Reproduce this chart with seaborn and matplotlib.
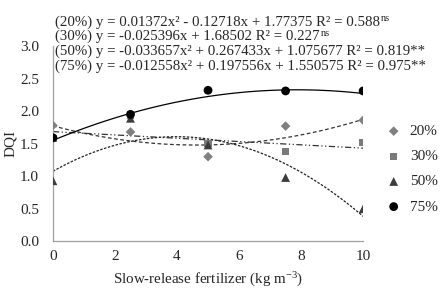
import matplotlib
matplotlib.use('Agg')
import matplotlib.pyplot as plt
import numpy as np
import pandas as pd
import seaborn as sns

doses = [0, 2.5, 5, 7.5, 10]
levels = ['20%', '30%', '50%', '75%']
dqi_20 = [1.78, 1.68, 1.30, 1.77, 1.86]
dqi_30 = [1.58, 1.94, 1.50, 1.38, 1.52]
dqi_50 = [0.93, 1.89, 1.48, 0.98, 0.50]
dqi_75 = [1.59, 1.95, 2.32, 2.31, 2.31]

# fitted coefficients (a x^2 + b x + c) as printed on the chart
coef_20 = [0.01372, -0.12718, 1.77375]
coef_30 = [0.0, -0.025396, 1.68502]
coef_50 = [-0.033657, 0.267433, 1.075677]
coef_75 = [-0.012558, 0.197556, 1.550575]

equations = [
    '(20%) y = 0.01372x² - 0.12718x + 1.77375 R² = 0.588',
    '(30%) y = -0.025396x + 1.68502 R² = 0.227',
    '(50%) y = -0.033657x² + 0.267433x + 1.075677 R² = 0.819**',
    '(75%) y = -0.012558x² + 0.197556x + 1.550575 R² = 0.975**',
]
signif = ['ns', 'ns', '', '']

sns.set_style('white')
plt.rcParams['font.family'] = ['Liberation Serif', 'DejaVu Serif']
plt.rcParams['mathtext.fontset'] = 'custom'
plt.rcParams['mathtext.rm'] = 'Liberation Serif'
plt.rcParams['mathtext.it'] = 'Liberation Serif:italic'
plt.rcParams['font.size'] = 11

df = pd.DataFrame({
    'dose': doses * 4,
    'dqi': dqi_20 + dqi_30 + dqi_50 + dqi_75,
    'level': [lv for lv in levels for _ in doses],
})

fig = plt.figure(figsize=(4.45, 2.95), dpi=100)
ax = fig.add_axes([0.119, 0.182, 0.697, 0.662])

xs = np.linspace(0, 10, 101)
curve_styles = [
    (coef_20, (0, (3, 2)), '#333333'),
    (coef_30, (0, (5, 2, 1, 2, 1, 2)), '#333333'),
    (coef_50, (0, (2, 1.2)), '#222222'),
    (coef_75, '-', 'black'),
]
for coef, ls, col in curve_styles:
    ys = coef[0] * xs ** 2 + coef[1] * xs + coef[2]
    sns.lineplot(x=xs, y=ys, ax=ax, color=col, linestyle=ls, linewidth=0.9)

palette = {'20%': '#808080', '30%': '#7a7a7a', '50%': '#3c3c3c', '75%': 'black'}
markers = {'20%': 'D', '30%': 's', '50%': '^', '75%': 'o'}
sizes = {'20%': 24, '30%': 30, '50%': 40, '75%': 40}
for lv in levels:
    sub = df[df['level'] == lv]
    sns.scatterplot(data=sub, x='dose', y='dqi', ax=ax, color=palette[lv],
                    marker=markers[lv], s=sizes[lv], edgecolor='none',
                    label=lv, zorder=5)

ax.set_xlim(0, 10)
ax.set_ylim(0, 3.0)
ax.set_xticks([0, 2, 4, 6, 8, 10])
ax.set_yticks(np.arange(0, 3.01, 0.5))
ax.set_yticklabels([f'{v:.1f}' for v in np.arange(0, 3.01, 0.5)])
ax.tick_params(axis='y', length=0, labelsize=11, pad=10)
ax.tick_params(axis='x', length=0, labelsize=11, pad=6)
for s in ['top', 'right']:
    ax.spines[s].set_visible(False)
for s in ['left', 'bottom']:
    ax.spines[s].set_color('#a0a0a0')
    ax.spines[s].set_linewidth(0.9)

ax.set_xlabel(r'Slow-release fertilizer (kg m$^{-3}$)', fontsize=10.8, labelpad=6)
ax.set_ylabel('DQI', fontsize=11, labelpad=2)

ax.legend(loc='center left', bbox_to_anchor=(1.0, 0.37), frameon=False,
          handletextpad=0.05, labelspacing=0.75, fontsize=11, markerscale=1.0,
          borderaxespad=0.6)

renderer = fig.canvas.get_renderer()
for i, eq in enumerate(equations):
    yy = 0.926 - i * 0.05
    t = fig.text(0.124, yy, eq, fontsize=10.7, va='center', ha='left')
    if signif[i]:
        bb = t.get_window_extent(renderer).transformed(fig.transFigure.inverted())
        fig.text(bb.x1 + 0.002, yy + 0.012, signif[i], fontsize=7.5,
                 va='center', ha='left')

fig.savefig('out.png', dpi=100)
